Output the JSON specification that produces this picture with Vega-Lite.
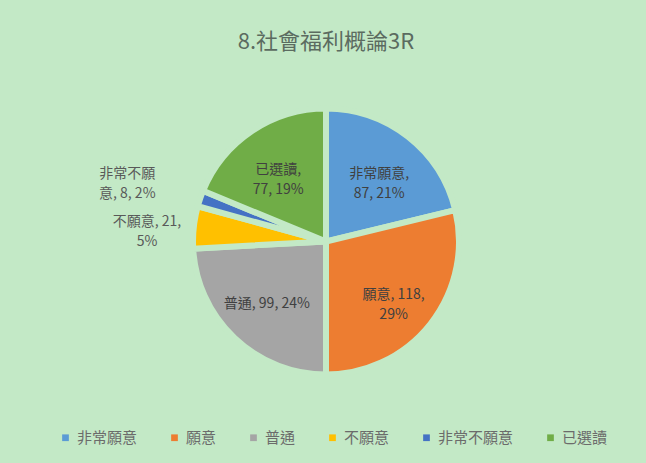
{
  "$schema": "https://vega.github.io/schema/vega-lite/v6.json",
  "width": 646,
  "height": 463,
  "autosize": {"type": "fit", "contains": "padding"},
  "padding": {"top": 40, "bottom": 17, "left": 58, "right": 52},
  "background": "#c3e9c6",
  "config": {
    "view": {"stroke": null},
    "font": "Noto Sans CJK TC"
  },
  "title": {
    "text": "8.社會福利概論3R",
    "fontSize": 22,
    "fontWeight": "normal",
    "color": "#5b6b60",
    "font": "Noto Sans CJK TC",
    "offset": 6
  },
  "data": {
    "values": [
      {"cat": "非常願意", "n": 87, "ord": 1, "label": "非常願意,\n87, 21%"},
      {"cat": "願意", "n": 118, "ord": 2, "label": "願意, 118,\n29%"},
      {"cat": "普通", "n": 99, "ord": 3, "label": "普通, 99, 24%"},
      {"cat": "不願意", "n": 21, "ord": 4, "label": "不願意, 21,\n5%"},
      {"cat": "非常不願意", "n": 8, "ord": 5, "label": "非常不願\n意, 8, 2%"},
      {"cat": "已選讀", "n": 77, "ord": 6, "label": "已選讀,\n77, 19%"}
    ]
  },
  "encoding": {
    "theta": {"field": "n", "type": "quantitative", "stack": true},
    "order": {"field": "ord", "type": "quantitative"}
  },
  "layer": [
    {
      "mark": {"type": "arc", "outerRadius": 133, "stroke": "#c3e9c6", "strokeWidth": 6},
      "encoding": {
        "color": {
          "field": "cat",
          "type": "nominal",
          "sort": ["非常願意", "願意", "普通", "不願意", "非常不願意", "已選讀"],
          "scale": {
            "domain": ["非常願意", "願意", "普通", "不願意", "非常不願意", "已選讀"],
            "range": ["#5b9bd5", "#ed7d31", "#a5a5a5", "#ffc000", "#4472c4", "#70ad47"]
          },
          "legend": {
            "orient": "bottom",
            "offset": 16,
            "direction": "horizontal",
            "title": null,
            "symbolType": "square",
            "symbolSize": 45,
            "symbolStrokeWidth": 0,
            "labelFontSize": 15,
            "labelColor": "#6b6b6b",
            "labelFont": "Noto Sans CJK TC",
            "columnPadding": 29
          }
        }
      }
    },
    {
      "mark": {"type": "text", "radius": 86, "fontSize": 14, "color": "#404040", "lineBreak": "\n", "lineHeight": 20},
      "encoding": {"text": {"condition": {"test": "datum.ord != 4 && datum.ord != 5", "field": "label"}, "value": ""}}
    },
    {
      "mark": {"type": "text", "radius": 180, "fontSize": 14, "color": "#595959", "lineBreak": "\n", "lineHeight": 20},
      "encoding": {"text": {"condition": {"test": "datum.ord == 4", "field": "label"}, "value": ""}}
    },
    {
      "mark": {"type": "text", "radius": 210, "fontSize": 14, "color": "#595959", "lineBreak": "\n", "lineHeight": 20},
      "encoding": {"text": {"condition": {"test": "datum.ord == 5", "field": "label"}, "value": ""}}
    }
  ]
}
